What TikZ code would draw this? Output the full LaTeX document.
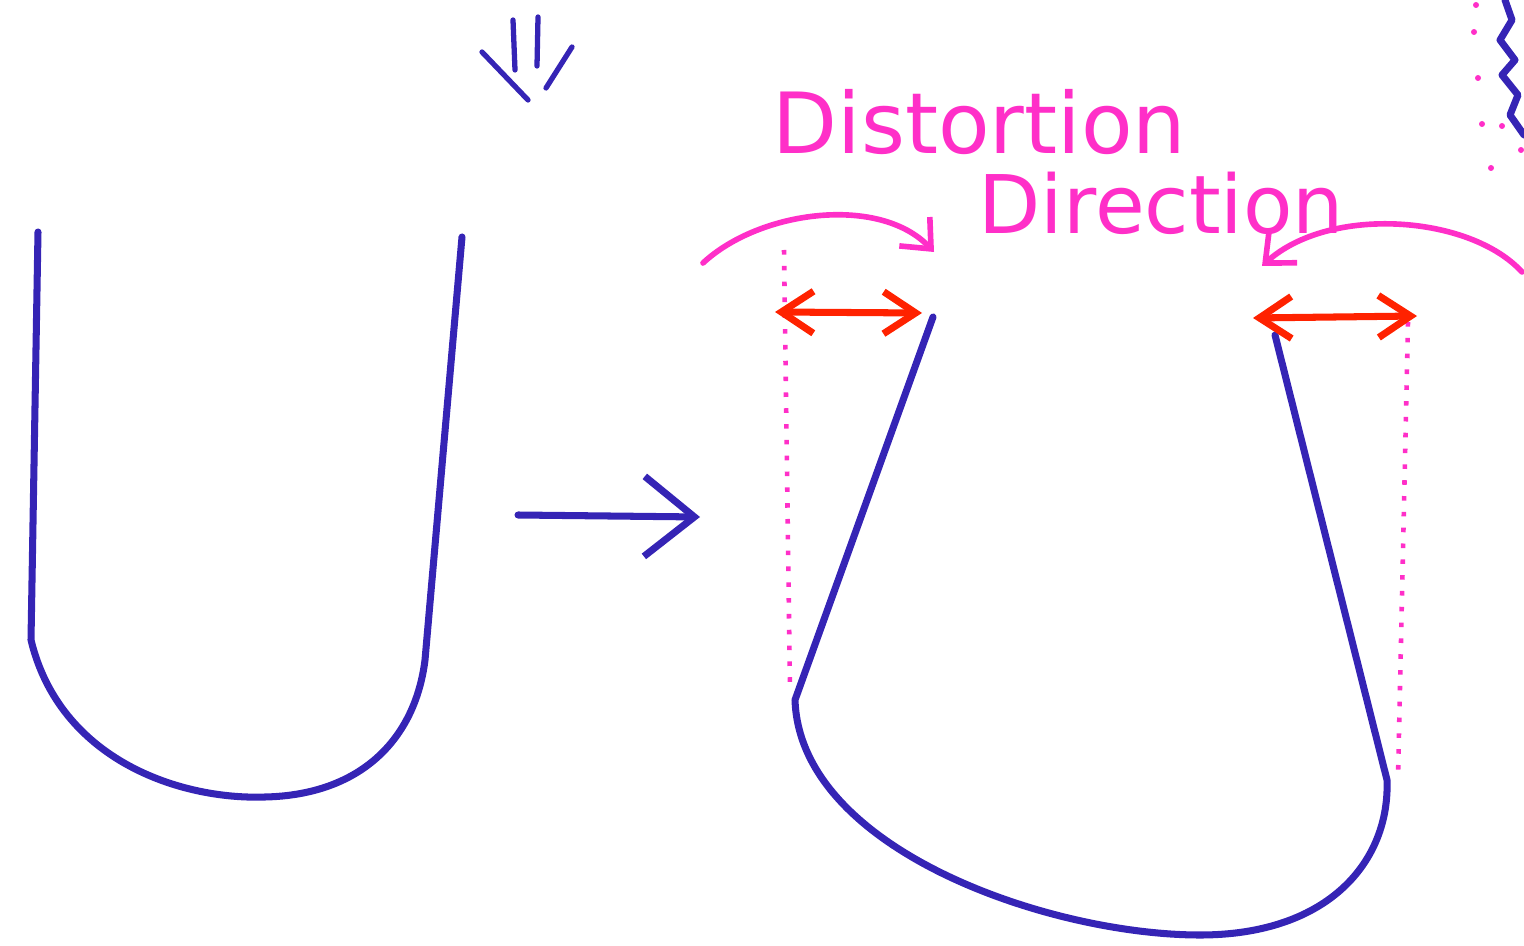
\documentclass[tikz,border=0pt]{standalone}
\usepackage{fontspec}
\setmainfont{DejaVu Sans}
\usetikzlibrary{arrows.meta, positioning, calc}
\definecolor{InkBlue}{HTML}{3524B5}
\definecolor{InkPink}{HTML}{FF2FC8}
\definecolor{InkRed}{HTML}{FF2200}

\begin{document}
\begin{tikzpicture}[
    x=0.01cm, y=-0.01cm,
    ink/.style={draw=InkBlue, line width=2pt, line cap=round, line join=round},
    guide/.style={draw=InkPink, line width=1.3pt, dash pattern=on 1.3pt off 3.2pt},
    spread/.style={draw=InkRed, line width=2pt, line cap=round,
        {Straight Barb[length=3.2mm, width=4.2mm, line width=2pt]}-{Straight Barb[length=3.2mm, width=4.2mm, line width=2pt]}},
    swing/.style={draw=InkPink, line width=1.6pt, line cap=round,
        -{Straight Barb[length=2.4mm, width=4.2mm, line width=1.6pt]}},
    word/.style={text=InkPink, font=\fontsize{24}{25}\selectfont, inner sep=0pt, anchor=base west}
]
\useasboundingbox (0,0) rectangle (1524,946);

% original U
\draw[ink] (38,232) -- (31,640) .. controls (60,760) and (180,800) .. (265,797)
    .. controls (360,795) and (415,740) .. (425,660) -- (462,237);

% sparkle strokes
\draw[ink, line width=1.5pt] (482,52) -- (528,100);
\draw[ink, line width=1.5pt] (513,20) -- (515,70);
\draw[ink, line width=1.5pt] (538,17) -- (537,66);
\draw[ink, line width=1.5pt] (572,47) -- (546,88);

% transformation arrow
\coordinate (from) at (518,515);
\coordinate (to) at (700,517);
\draw[ink, -{Straight Barb[length=5mm, width=8mm, line width=2pt]}] (from) -- (to);

% distorted U
\draw[ink] (933,317) -- (795,700) .. controls (800,850) and (1050,935) .. (1200,935)
    .. controls (1330,935) and (1390,860) .. (1387,780) -- (1275,335);

% original width guides
\coordinate (gl1) at (784,250);
\coordinate (gl2) at (790,690);
\coordinate (gr1) at (1408,322);
\coordinate (gr2) at (1398,778);
\draw[guide] (gl1) -- (gl2);
\draw[guide] (gr1) -- (gr2);

% spread arrows
\coordinate (sl1) at (775,312);
\coordinate (sl2) at (922,313);
\coordinate (sr1) at (1253,318);
\coordinate (sr2) at (1417,316);
\draw[spread] (sl1) -- (sl2);
\draw[spread] (sr1) -- (sr2);

% curved arrows
\coordinate (cl1) at (703,263);
\coordinate (cl2) at (934,252);
\coordinate (cr1) at (1522,272);
\coordinate (cr2) at (1262,266);
\draw[swing] (cl1) .. controls (760,210) and (880,195) .. (cl2);
\draw[swing] (cr1) .. controls (1470,215) and (1330,205) .. (cr2);

% labels
\node[word] (distortion) at (772,154) {Distortion};
\node[word, font=\fontsize{23}{24}\selectfont] (direction) at (978,234) {Direction};

% scribble at the corner
\foreach \p in {(1476,5),(1474,32),(1478,78),(1482,124),(1502,126),(1491,168),(1521,150)}
    \fill[InkPink] \p circle (3);
\draw[ink, line width=2pt] (1505,0) -- (1512,20) -- (1500,40) -- (1515,60) -- (1502,75)
    -- (1518,95) -- (1510,115) -- (1524,135);
\end{tikzpicture}
\end{document}
